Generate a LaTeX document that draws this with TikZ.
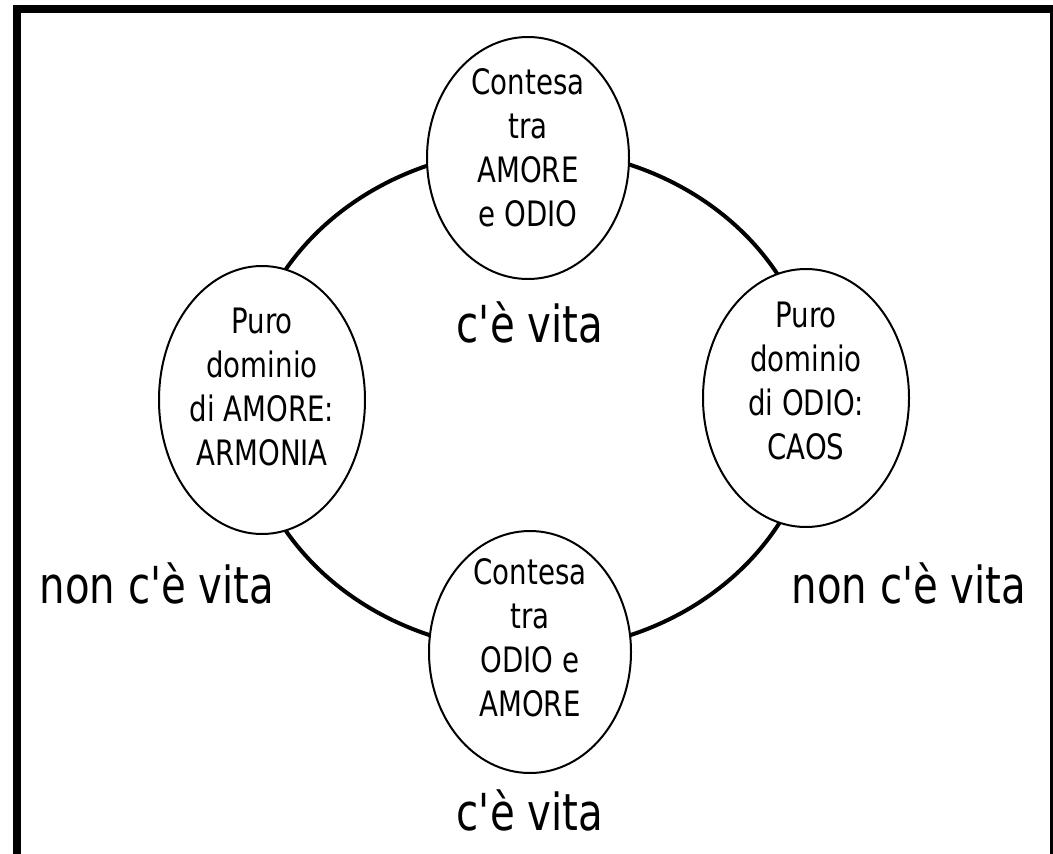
\documentclass[tikz,border=0pt]{standalone}
\usepackage{fontspec}
\setmainfont[FakeStretch=0.79, Ligatures=TeXOff]{DejaVu Sans}
\usepackage{tikz}
\usetikzlibrary{shapes.geometric}

\tikzset{
  bubble/.style={ellipse, draw, line width=2pt, fill=white, inner sep=0pt},
  bubtext/.style={align=center, inner sep=0pt, font=\fontsize{35}{44}\selectfont},
  vita/.style={anchor=base, inner sep=0pt, font=\fontsize{51}{60}\selectfont}
}

\begin{document}
\begin{tikzpicture}[x=1pt, y=-1pt]
    \useasboundingbox (0,0) rectangle (1053,854);
    \clip (0,0) rectangle (1053,854);

    % frame, open at the bottom
    \draw[line width=8pt] (17,900) |- (1054,9) -- (1054,900);

    % the cycle
    \coordinate (hub) at (530,400);
    \draw[line width=4pt] (hub) ellipse [x radius=286, y radius=251];

    \node[bubble, minimum width=202, minimum height=242] at (528,158) (strifeA) {};
    \node[bubble, minimum width=206, minimum height=268] at (262,400) (love) {};
    \node[bubble, minimum width=206, minimum height=258] at (806,398) (hate) {};
    \node[bubble, minimum width=202, minimum height=242] at (530,652) (strifeB) {};

    \node[bubtext] at ([yshift=10pt]strifeA.center) (strifeAtxt) {Contesa\\tra\\AMORE\\e ODIO};
    \node[bubtext] at ([yshift=13pt]love.center) (lovetxt) {Puro\\dominio\\di AMORE:\\ARMONIA};
    \node[bubtext] at ([yshift=17pt]hate.center) (hatetxt) {Puro\\dominio\\di ODIO:\\CAOS};
    \node[bubtext] at ([yshift=14pt]strifeB.center) (strifeBtxt) {Contesa\\tra\\ODIO e\\AMORE};

    \node[vita] at (530,342) (lifeA) {c'è vita};
    \node[vita] at (530,830) (lifeB) {c'è vita};
    \node[vita] at (157,603) (nolifeL) {non c'è vita};
    \node[vita] at (909,603) (nolifeR) {non c'è vita};
\end{tikzpicture}
\end{document}
